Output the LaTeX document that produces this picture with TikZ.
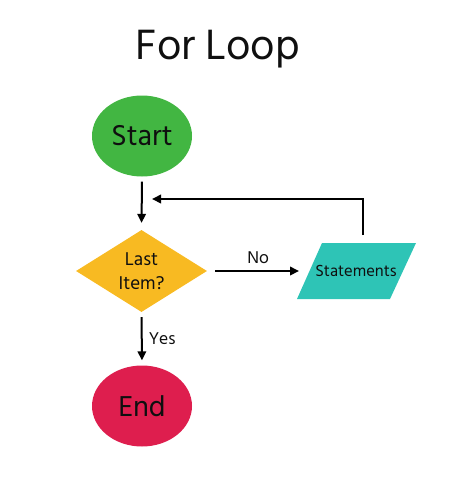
\documentclass[tikz,border=0pt]{standalone}
\usepackage{fontspec}
\setmainfont{Hind Siliguri}
\usetikzlibrary{shapes.geometric,arrows.meta}
\definecolor{cgreen}{RGB}{66,182,66}
\definecolor{cyellow}{RGB}{248,186,34}
\definecolor{cteal}{RGB}{46,196,182}
\definecolor{cred}{RGB}{222,30,78}
\definecolor{ctext}{RGB}{15,15,15}
\tikzset{
  terminal/.style={ellipse, inner sep=0pt, minimum width=100pt, minimum height=81pt, text=ctext, font=\fontsize{29.5}{32}\selectfont},
  decision/.style={diamond, inner sep=0pt, minimum width=131pt, minimum height=82pt, fill=cyellow},
  lbl/.style={text=ctext, font=\fontsize{17.5}{20}\selectfont, inner sep=0pt},
  conn/.style={line width=2pt, -{Triangle[length=9pt,width=8.5pt]}},
}
\begin{document}
\begin{tikzpicture}[x=1pt,y=-1pt]
\useasboundingbox (0,0) rectangle (474,483);
\node[text=ctext, font=\fontsize{43.5}{48}\selectfont, inner sep=0pt] (title) at (218,49) {For Loop};
\node[terminal, fill=cgreen] (start) at (142,136) {Start};
\node[decision] (last) at (141.5,271) {};
\node[lbl, align=center, font=\fontsize{19}{24}\selectfont] (lasttext) at (141.5,271) {Last\\Item?};
\fill[cteal] (322,243) -- (416,243) -- (390,299) -- (297,299) -- cycle;
\node[lbl, font=\fontsize{16.5}{19}\selectfont] (stmt) at (356,271) {Statements};
\coordinate (stmttop) at (363,243);
\coordinate (stmtleft) at (309,271);
\coordinate (ret) at (142,199);
\node[terminal, fill=cred] (end) at (142,406) {End};
\draw[conn, shorten <=5pt, shorten >=7pt] (start.south) -- (last.north);
\draw[conn, shorten <=8pt, shorten >=10pt] (stmttop) |- (ret);
\draw[conn, shorten <=8pt, shorten >=10pt] (last.east) -- node[lbl, above=6pt] (no) {No} (stmtleft);
\draw[conn, shorten <=5pt, shorten >=5pt] (last.south) -- node[lbl, right=6pt] (yes) {Yes} (end.north);
\end{tikzpicture}
\end{document}
